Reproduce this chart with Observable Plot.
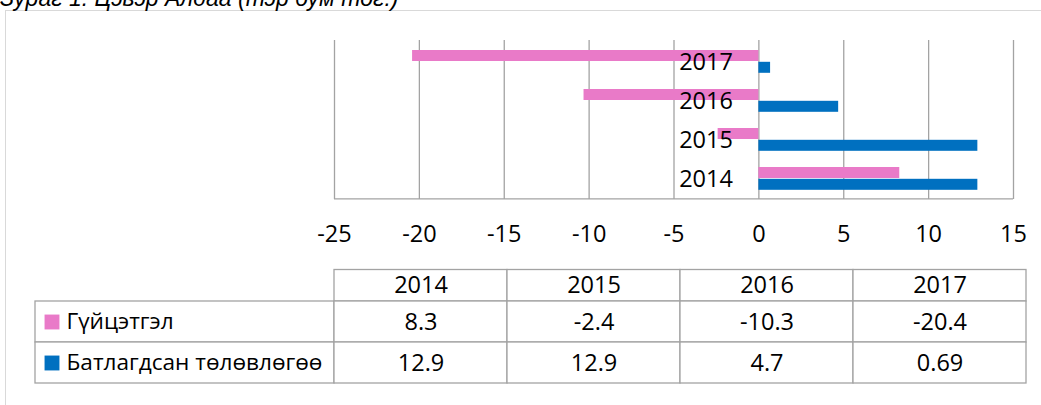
<!DOCTYPE html>
<html>
<head>
<meta charset="utf-8">
<script src="https://cdn.jsdelivr.net/npm/d3@7"></script>
<script src="https://cdn.jsdelivr.net/npm/@observablehq/plot@0.6"></script>
<style>
  html, body { margin: 0; padding: 0; background: white; }
  #wrap { position: relative; width: 1041px; height: 405px; overflow: hidden; background: white; font-family: "Open Sans", sans-serif; }
  #frame { position: absolute; left: 5px; top: 10px; width: 1100px; height: 500px; border: 1.5px solid #d9d9d9; box-sizing: border-box; }
  #title { position: absolute; left: 0px; top: -13.5px; font: italic 23px/23px "Liberation Sans", Arial, sans-serif; color: #000; white-space: nowrap; }
  .abs { position: absolute; }
</style>
</head>
<body>
<div id="wrap">
  <div id="frame"></div>
  <div id="title">Зураг 1. Цэвэр Алдаа (тэр бум төг.)</div>
  <div id="chart" class="abs" style="left:0px; top:0px;"></div>
  <div id="legendcol" class="abs" style="left:0px; top:255px;"></div>
  <div id="datacol" class="abs" style="left:330px; top:255px;"></div>
</div>
<script>
// ---- data ----
const years = [2014, 2015, 2016, 2017];
const seriesNames = ["Гүйцэтгэл", "Батлагдсан төлөвлөгөө"];
const actual = [8.3, -2.4, -10.3, -20.4];
const planned = [12.9, 12.9, 4.7, 0.69];
const xTicks = [-25, -20, -15, -10, -5, 0, 5, 10, 15];
const colors = ["#E97AC8", "#0070C0"];

const rows = years.map((y, i) => ({year: y, actual: actual[i], planned: planned[i]}));
const tableRows = [];
years.forEach((y, i) => {
  tableRows.push({year: y, series: seriesNames[0], value: actual[i]});
  tableRows.push({year: y, series: seriesNames[1], value: planned[i]});
});

const gridColor = "#a3a3a3";
const FS = 23.5;
const font = {fontFamily: "'Open Sans', sans-serif", background: "transparent", overflow: "visible"};

// ---- bar chart ----
const chart = Plot.plot({
  width: 1041, height: 255,
  marginTop: 40, marginBottom: 56, marginLeft: 334, marginRight: 28,
  style: font,
  x: {domain: [-25, 15]},
  y: {type: "band", domain: [...years].reverse(), padding: 0, axis: null},
  marks: [
    Plot.ruleX(xTicks, {x: d => d, stroke: gridColor, strokeWidth: 1.3}),
    Plot.ruleY([2014], {y: d => d, x1: -25, x2: 15, dy: 19.9, stroke: gridColor, strokeWidth: 1.3}),
    Plot.barX(rows, {y: "year", x1: 0, x2: "actual", fill: colors[0], insetTop: 8, insetBottom: 20}),
    Plot.barX(rows, {y: "year", x1: 0, x2: "planned", fill: colors[1], insetTop: 19.8, insetBottom: 8.2}),
    Plot.text(years, {x: 0, y: d => d, text: d => String(d), dx: -26, textAnchor: "end", fontSize: FS, fill: "black"}),
    Plot.axisX(xTicks, {tickSize: 0, tickPadding: 26, fontSize: FS, tickFormat: d => String(d), fill: "black"})
  ]
});
document.getElementById("chart").appendChild(chart);

// ---- data table: legend column ----
const rowDomain = ["header", ...seriesNames];
const legendCol = Plot.plot({
  width: 336, height: 150,
  marginTop: 4.5, marginBottom: 21, marginLeft: 35, marginRight: 2,
  style: font,
  y: {type: "band", domain: rowDomain, padding: 0, axis: null},
  marks: [
    Plot.cell(seriesNames, {y: d => d, fill: "white", stroke: gridColor, strokeWidth: 1.3}),
    Plot.dot([seriesNames[0]], {y: d => d, frameAnchor: "left", dx: 16.5, symbol: "square", r: 8.4, fill: colors[0]}),
    Plot.dot([seriesNames[1]], {y: d => d, frameAnchor: "left", dx: 16.5, symbol: "square", r: 8.4, fill: colors[1]}),
    Plot.text(seriesNames, {y: d => d, text: d => d, frameAnchor: "left", dx: 31, textAnchor: "start", fontSize: 22.6, fill: "black"})
  ]
});
document.getElementById("legendcol").appendChild(legendCol);

// ---- data table: value columns ----
const dataCol = Plot.plot({
  width: 700, height: 150,
  marginTop: 4.5, marginBottom: 21, marginLeft: 4, marginRight: 4,
  style: font,
  x: {type: "band", domain: years, padding: 0, axis: null},
  y: {type: "band", domain: rowDomain, padding: 0, axis: null},
  marks: [
    Plot.cell(years, {x: d => d, y: () => "header", insetTop: 9.5, fill: "white", stroke: gridColor, strokeWidth: 1.3}),
    Plot.cell(tableRows, {x: "year", y: "series", fill: "white", stroke: gridColor, strokeWidth: 1.3}),
    Plot.text(years, {x: d => d, y: () => "header", dy: 4.5, text: d => String(d), fontSize: FS, fill: "black"}),
    Plot.text(tableRows, {x: "year", y: "series", text: d => String(d.value), fontSize: FS, fill: "black"})
  ]
});
document.getElementById("datacol").appendChild(dataCol);
</script>
</body>
</html>
